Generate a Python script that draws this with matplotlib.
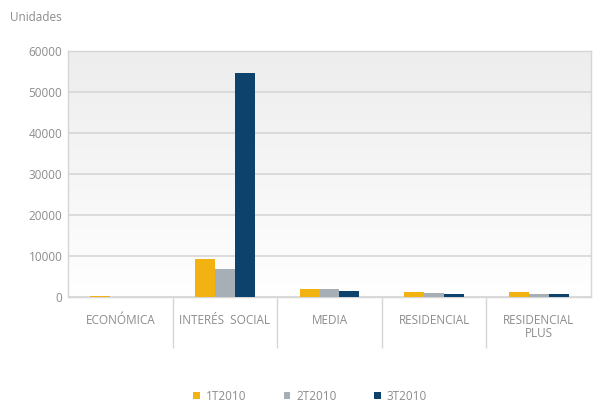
import numpy as np
import matplotlib.pyplot as plt
from matplotlib.colors import LinearSegmentedColormap

# Unidades por segmento y trimestre
categorias = ["ECONÓMICA", "INTERÉS  SOCIAL", "MEDIA", "RESIDENCIAL", "RESIDENCIAL\nPLUS"]
t1_2010 = [300, 9300, 1900, 1300, 1300]
t2_2010 = [0, 6800, 1900, 1000, 700]
t3_2010 = [0, 54600, 1500, 700, 700]
series = ["1T2010", "2T2010", "3T2010"]
colores = ["#F2B212", "#A7AFB6", "#0D426C"]

plt.rcParams['font.family'] = ['Open Sans', 'DejaVu Sans']
texto = "#8c8c8c"
linea = "#d6d6d6"

fig = plt.figure(figsize=(6, 4.05), dpi=100)
ax = fig.add_axes([0.1133, 0.2667, 0.8717, 0.6073])

# fondo degradado del área de trazado
fondo = LinearSegmentedColormap.from_list("fondo", ["#ffffff", "#ededed"])
grad = np.linspace(0, 1, 256).reshape(-1, 1)
ax.imshow(grad, cmap=fondo, aspect="auto", origin="lower",
          extent=[0, 1, 0, 1], transform=ax.transAxes, zorder=0)

x = np.arange(len(categorias))
ancho = 0.19
for i, (vals, nombre, col) in enumerate(zip([t1_2010, t2_2010, t3_2010], series, colores)):
    ax.bar(x + (i - 1) * ancho, vals, ancho, color=col, label=nombre, zorder=3)

ax.set_xlim(-0.5, len(categorias) - 0.5)
ax.set_ylim(0, 60000)
ax.set_yticks(np.arange(0, 60001, 10000))
ax.yaxis.grid(True, color=linea, linewidth=1.2, zorder=1)
ax.set_axisbelow(True)

ax.set_xticks(x)
ax.set_xticklabels(categorias, color=texto, fontsize=8.5, linespacing=1.0)
ax.tick_params(axis="x", which="major", length=0, pad=12)
# separadores entre categorías que bajan hasta las etiquetas
ax.set_xticks(x[:-1] + 0.5, minor=True)
ax.tick_params(axis="x", which="minor", length=37, color=linea, width=1)
ax.tick_params(axis="y", length=0, labelsize=8.5, labelcolor=texto, pad=4)

for lado in ["left", "bottom", "right", "top"]:
    ax.spines[lado].set_color(linea)
    ax.spines[lado].set_linewidth(1)

fig.text(0.017, 0.958, "Unidades", color=texto, fontsize=8.5, ha="left", va="center")

ax.legend(loc="center", bbox_to_anchor=(0.463, -0.405), ncol=3, frameon=False,
          fontsize=8.5, labelcolor=texto, handlelength=0.55, handleheight=0.55,
          handletextpad=0.5, columnspacing=3.2)

fig.savefig("out.png", dpi=100)
